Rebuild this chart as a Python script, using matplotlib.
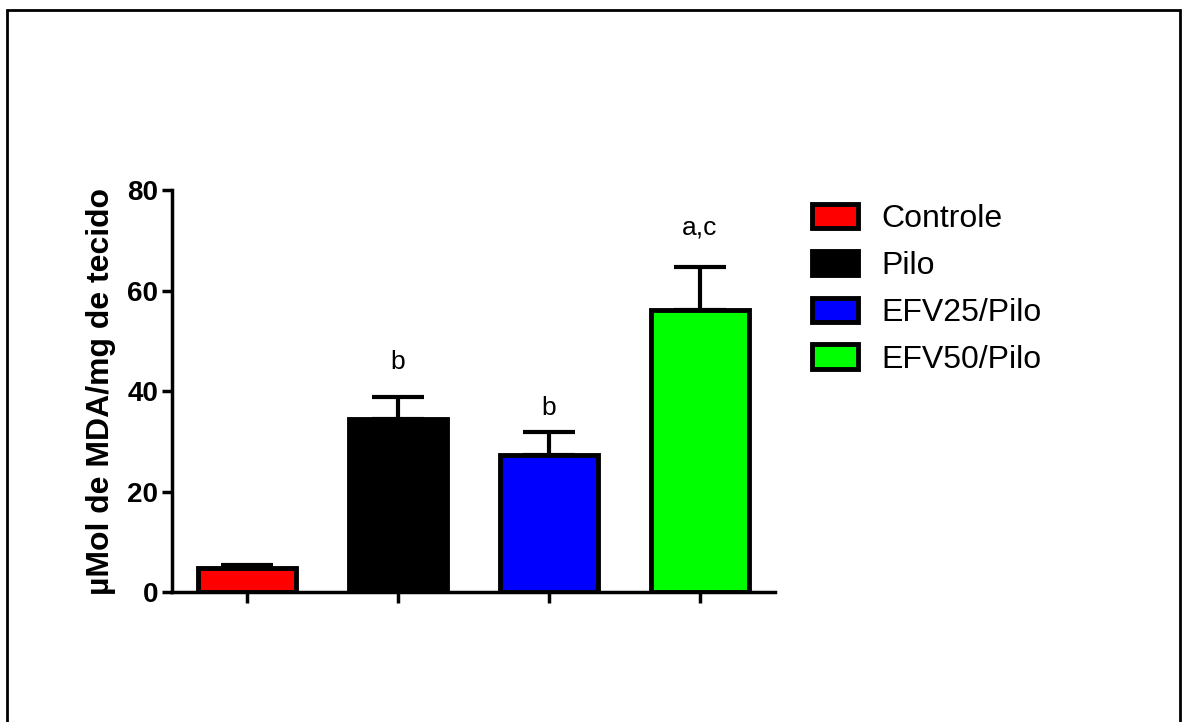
import matplotlib.pyplot as plt
from matplotlib.patches import Rectangle

plt.rcParams['font.family'] = ['Liberation Sans', 'DejaVu Sans']

groups = ["Controle", "Pilo", "EFV25/Pilo", "EFV50/Pilo"]
means = [4.8, 34.4, 27.3, 56.1]
sem = [0.5, 4.4, 4.5, 8.6]
letters = ["", "b", "b", "a,c"]
letter_y = [0, 45.8, 36.7, 72.5]
colors = ["#ff0000", "#000000", "#0000ff", "#00ff00"]

fig = plt.figure(figsize=(11.92, 7.22), dpi=100)
ax = fig.add_axes([0.1443, 0.180, 0.5058, 0.5568])

x = list(range(len(groups)))
bars = ax.bar(x, means, width=0.65, color=colors, edgecolor="black", linewidth=3.5,
              label=groups, zorder=2)
ax.errorbar(x, means, yerr=[[0] * len(sem), sem], fmt="none", ecolor="black",
            elinewidth=3, capsize=19, capthick=3, zorder=1)

for xi, ly, lab in zip(x, letter_y, letters):
    if lab:
        ax.text(xi, ly, lab, ha="center", va="center", fontsize=19)

ax.set_xlim(-0.5, 3.5)
ax.set_ylim(0, 80)
ax.set_yticks([0, 20, 40, 60, 80])
ax.set_xticks(x)
ax.set_xticklabels([])
ax.spines["top"].set_visible(False)
ax.spines["right"].set_visible(False)
ax.spines["left"].set_linewidth(2.5)
ax.spines["bottom"].set_linewidth(2.5)
ax.tick_params(axis="y", length=7, width=2.5, labelsize=20, pad=3)
ax.tick_params(axis="x", length=8, width=2.5)
for t in ax.get_yticklabels():
    t.set_fontweight("bold")
ax.set_ylabel("µMol de MDA/mg de tecido", fontsize=23, fontweight="bold", labelpad=8)

leg = ax.legend(bars, groups, loc="upper left", bbox_to_anchor=(1.061, 0.966), frameon=False,
                fontsize=23, handlelength=1.45, handleheight=0.8, labelspacing=0.52,
                handletextpad=0.72, borderpad=0, borderaxespad=0)

border = Rectangle((0.006, -0.05), 0.984, 1.036, transform=fig.transFigure,
                   fill=False, edgecolor="black", linewidth=2)
fig.patches.append(border)

fig.savefig("out.png", dpi=100)
